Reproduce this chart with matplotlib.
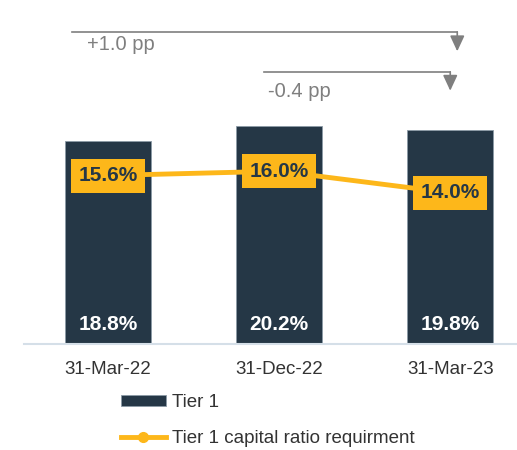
import matplotlib.pyplot as plt
import numpy as np

plt.rcParams['font.family'] = ['Liberation Sans', 'DejaVu Sans']

dates = ['31-Mar-22', '31-Dec-22', '31-Mar-23']
tier1 = [18.8, 20.2, 19.8]
requirement = [15.6, 16.0, 14.0]
changes = ['+1.0 pp', '-0.4 pp']

navy = '#253746'
amber = '#FDB71A'
grey = '#7f7f7f'

fig = plt.figure(figsize=(5.17, 4.5), dpi=100)
ax = fig.add_axes([0.0464, 0.2356, 0.9536, 0.7644])

x = np.arange(len(dates))
bars = ax.bar(x, tier1, width=0.5, color=navy, edgecolor='#8c9aa6', linewidth=0.6,
              label='Tier 1', zorder=2)
line, = ax.plot(x, requirement, color=amber, lw=3.5, marker='o', ms=7,
                label='Tier 1 capital ratio requirment', zorder=3)

for xi, v in zip(x, tier1):
    ax.text(xi, 1.85, f'{v:.1f}%', ha='center', va='center', color='white',
            fontsize=15, fontweight='bold', zorder=4)
for xi, v in zip(x, requirement):
    ax.text(xi, v, f'{v:.1f}%', ha='center', va='center', color=navy,
            fontsize=15, fontweight='bold', zorder=5,
            bbox=dict(boxstyle='square,pad=0.36', fc=amber, ec='none'))

# change brackets above the bars: (start x, end x, line y, arrow tip y)
brackets = [(-0.2105, 2.041, 28.9, 27.1), (0.912, 2.0, 25.2, 23.45)]
texts_at = [(-0.123, 27.7), (0.936, 23.35)]
for (x0, x1, yl, yt), (tx, ty), lab in zip(brackets, texts_at, changes):
    ax.plot([x0, x1], [yl, yl], color=grey, lw=1.2, zorder=1)
    ax.annotate('', xy=(x1, yt), xytext=(x1, yl),
                arrowprops=dict(arrowstyle='-|>,head_length=0.43,head_width=0.2',
                                color=grey, lw=1.2,
                                mutation_scale=22, shrinkA=0, shrinkB=0))
    ax.text(tx, ty, lab, ha='left', va='center', color=grey, fontsize=14.5)

ax.set_xlim(-0.49, 2.39)
ax.set_ylim(0, 31.85)
ax.set_xticks(x)
ax.set_xticklabels(dates, fontsize=13.5, color='#333333')
ax.tick_params(axis='x', length=0, pad=12)
ax.set_yticks([])
for s in ['top', 'right', 'left']:
    ax.spines[s].set_visible(False)
ax.spines['bottom'].set_color('#d5dfe8')
ax.spines['bottom'].set_linewidth(1.5)

fig.legend(handles=[bars, line], loc='upper left', bbox_to_anchor=(0.215, 0.145),
           frameon=False, fontsize=13.5, handlelength=2.45, handleheight=0.55,
           labelspacing=1.0, handletextpad=0.3, borderpad=0, labelcolor='#333333')

fig.savefig('out.png', dpi=100)
